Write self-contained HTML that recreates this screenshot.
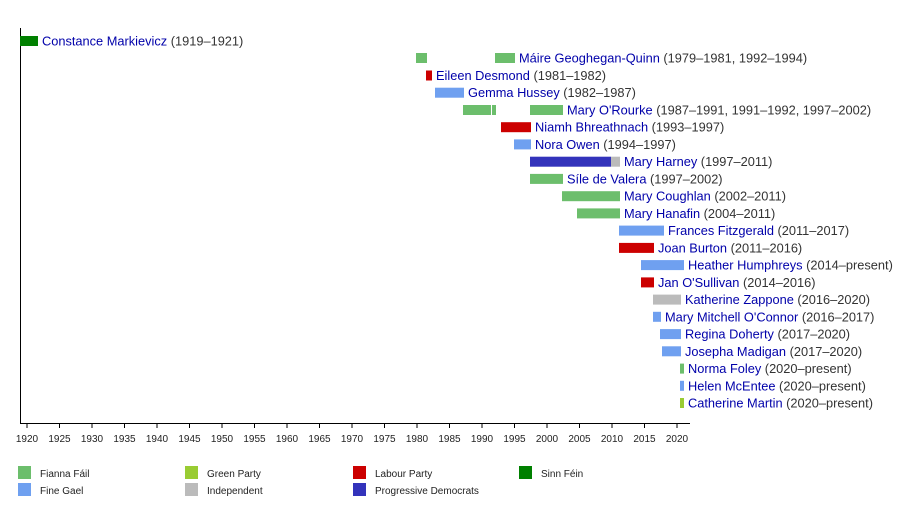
<!DOCTYPE html>
<html><head><meta charset="utf-8"><style>
body{margin:0;background:#fff;}
svg{display:block;font-family:"Liberation Sans",sans-serif;}
.n{fill:#0000aa;font-size:12.8px}
.d{fill:#333;font-size:12.8px}
.t{font-size:10px;fill:#222;text-anchor:middle}
.l{font-size:10px;fill:#222}
</style></head><body>
<svg width="900" height="524" viewBox="0 0 900 524">
<rect width="900" height="524" fill="#fff"/>
<line x1="20.5" y1="28" x2="20.5" y2="423" stroke="#000"/>
<line x1="20" y1="423.5" x2="690" y2="423.5" stroke="#000"/>
<g stroke="#000">
<line x1="27" y1="423" x2="27" y2="428"/><line x1="59.5" y1="423" x2="59.5" y2="428"/><line x1="92" y1="423" x2="92" y2="428"/><line x1="124.5" y1="423" x2="124.5" y2="428"/><line x1="157" y1="423" x2="157" y2="428"/><line x1="189.5" y1="423" x2="189.5" y2="428"/><line x1="222" y1="423" x2="222" y2="428"/><line x1="254.5" y1="423" x2="254.5" y2="428"/><line x1="287" y1="423" x2="287" y2="428"/><line x1="319.5" y1="423" x2="319.5" y2="428"/><line x1="352" y1="423" x2="352" y2="428"/><line x1="384.5" y1="423" x2="384.5" y2="428"/><line x1="417" y1="423" x2="417" y2="428"/><line x1="449.5" y1="423" x2="449.5" y2="428"/><line x1="482" y1="423" x2="482" y2="428"/><line x1="514.5" y1="423" x2="514.5" y2="428"/><line x1="547" y1="423" x2="547" y2="428"/><line x1="579.5" y1="423" x2="579.5" y2="428"/><line x1="612" y1="423" x2="612" y2="428"/><line x1="644.5" y1="423" x2="644.5" y2="428"/><line x1="677" y1="423" x2="677" y2="428"/>
</g>
<g class="t">
<text x="27" y="442">1920</text><text x="59.5" y="442">1925</text><text x="92" y="442">1930</text><text x="124.5" y="442">1935</text><text x="157" y="442">1940</text><text x="189.5" y="442">1945</text><text x="222" y="442">1950</text><text x="254.5" y="442">1955</text><text x="287" y="442">1960</text><text x="319.5" y="442">1965</text><text x="352" y="442">1970</text><text x="384.5" y="442">1975</text><text x="417" y="442">1980</text><text x="449.5" y="442">1985</text><text x="482" y="442">1990</text><text x="514.5" y="442">1995</text><text x="547" y="442">2000</text><text x="579.5" y="442">2005</text><text x="612" y="442">2010</text><text x="644.5" y="442">2015</text><text x="677" y="442">2020</text>
</g>
<g>
<rect x="20" y="36" width="18" height="10" fill="#008000"/>
<rect x="416" y="53" width="11" height="10" fill="#6cbe6c"/><rect x="495" y="53" width="20" height="10" fill="#6cbe6c"/>
<rect x="426" y="70.5" width="6" height="10" fill="#cc0000"/>
<rect x="435" y="87.7" width="29" height="10" fill="#6fa0f0"/>
<rect x="463" y="105" width="28" height="10" fill="#6cbe6c"/><rect x="492" y="105" width="4" height="10" fill="#6cbe6c"/><rect x="530" y="105" width="33" height="10" fill="#6cbe6c"/>
<rect x="501" y="122.2" width="30" height="10" fill="#cc0000"/>
<rect x="514" y="139.4" width="17" height="10" fill="#6fa0f0"/>
<rect x="530" y="156.7" width="81" height="10" fill="#3333bb"/><rect x="611" y="156.7" width="9" height="10" fill="#bbbbbb"/>
<rect x="530" y="173.9" width="33" height="10" fill="#6cbe6c"/>
<rect x="562" y="191.2" width="58" height="10" fill="#6cbe6c"/>
<rect x="577" y="208.4" width="43" height="10" fill="#6cbe6c"/>
<rect x="619" y="225.6" width="45" height="10" fill="#6fa0f0"/>
<rect x="619" y="242.9" width="35" height="10" fill="#cc0000"/>
<rect x="641" y="260.1" width="43" height="10" fill="#6fa0f0"/>
<rect x="641" y="277.4" width="13" height="10" fill="#cc0000"/>
<rect x="653" y="294.6" width="28" height="10" fill="#bbbbbb"/>
<rect x="653" y="311.8" width="8" height="10" fill="#6fa0f0"/>
<rect x="660" y="329.1" width="21" height="10" fill="#6fa0f0"/>
<rect x="662" y="346.3" width="19" height="10" fill="#6fa0f0"/>
<rect x="680" y="363.6" width="4" height="10" fill="#6cbe6c"/>
<rect x="680" y="380.8" width="4" height="10" fill="#6fa0f0"/>
<rect x="680" y="398" width="4" height="10" fill="#99cc33"/>
</g>
<g>
<text x="42" y="45.5"><tspan class="n">Constance Markievicz</tspan><tspan class="d"> (1919–1921)</tspan></text>
<text x="519" y="62.7"><tspan class="n">Máire Geoghegan-Quinn</tspan><tspan class="d"> (1979–1981, 1992–1994)</tspan></text>
<text x="436" y="80"><tspan class="n">Eileen Desmond</tspan><tspan class="d"> (1981–1982)</tspan></text>
<text x="468" y="97.2"><tspan class="n">Gemma Hussey</tspan><tspan class="d"> (1982–1987)</tspan></text>
<text x="567" y="114.5"><tspan class="n">Mary O'Rourke</tspan><tspan class="d"> (1987–1991, 1991–1992, 1997–2002)</tspan></text>
<text x="535" y="131.7"><tspan class="n">Niamh Bhreathnach</tspan><tspan class="d"> (1993–1997)</tspan></text>
<text x="535" y="148.9"><tspan class="n">Nora Owen</tspan><tspan class="d"> (1994–1997)</tspan></text>
<text x="624" y="166.2"><tspan class="n">Mary Harney</tspan><tspan class="d"> (1997–2011)</tspan></text>
<text x="567" y="183.4"><tspan class="n">Síle de Valera</tspan><tspan class="d"> (1997–2002)</tspan></text>
<text x="624" y="200.7"><tspan class="n">Mary Coughlan</tspan><tspan class="d"> (2002–2011)</tspan></text>
<text x="624" y="217.9"><tspan class="n">Mary Hanafin</tspan><tspan class="d"> (2004–2011)</tspan></text>
<text x="668" y="235.1"><tspan class="n">Frances Fitzgerald</tspan><tspan class="d"> (2011–2017)</tspan></text>
<text x="658" y="252.4"><tspan class="n">Joan Burton</tspan><tspan class="d"> (2011–2016)</tspan></text>
<text x="688" y="269.6"><tspan class="n">Heather Humphreys</tspan><tspan class="d"> (2014–present)</tspan></text>
<text x="658" y="286.9"><tspan class="n">Jan O'Sullivan</tspan><tspan class="d"> (2014–2016)</tspan></text>
<text x="685" y="304.1"><tspan class="n">Katherine Zappone</tspan><tspan class="d"> (2016–2020)</tspan></text>
<text x="665" y="321.3"><tspan class="n">Mary Mitchell O'Connor</tspan><tspan class="d"> (2016–2017)</tspan></text>
<text x="685" y="338.6"><tspan class="n">Regina Doherty</tspan><tspan class="d"> (2017–2020)</tspan></text>
<text x="685" y="355.8"><tspan class="n">Josepha Madigan</tspan><tspan class="d"> (2017–2020)</tspan></text>
<text x="688" y="373.1"><tspan class="n">Norma Foley</tspan><tspan class="d"> (2020–present)</tspan></text>
<text x="688" y="390.3"><tspan class="n">Helen McEntee</tspan><tspan class="d"> (2020–present)</tspan></text>
<text x="688" y="407.5"><tspan class="n">Catherine Martin</tspan><tspan class="d"> (2020–present)</tspan></text>
</g>
<g>
<rect x="18" y="466" width="13" height="13" fill="#6cbe6c"/><text class="l" x="40" y="477">Fianna Fáil</text>
<rect x="18" y="483" width="13" height="13" fill="#6fa0f0"/><text class="l" x="40" y="494">Fine Gael</text>
<rect x="185" y="466" width="13" height="13" fill="#99cc33"/><text class="l" x="207" y="477">Green Party</text>
<rect x="185" y="483" width="13" height="13" fill="#bbbbbb"/><text class="l" x="207" y="494">Independent</text>
<rect x="353" y="466" width="13" height="13" fill="#cc0000"/><text class="l" x="375" y="477">Labour Party</text>
<rect x="353" y="483" width="13" height="13" fill="#3333bb"/><text class="l" x="375" y="494">Progressive Democrats</text>
<rect x="519" y="466" width="13" height="13" fill="#008000"/><text class="l" x="541" y="477">Sinn Féin</text>
</g>
</svg>
</body></html>
